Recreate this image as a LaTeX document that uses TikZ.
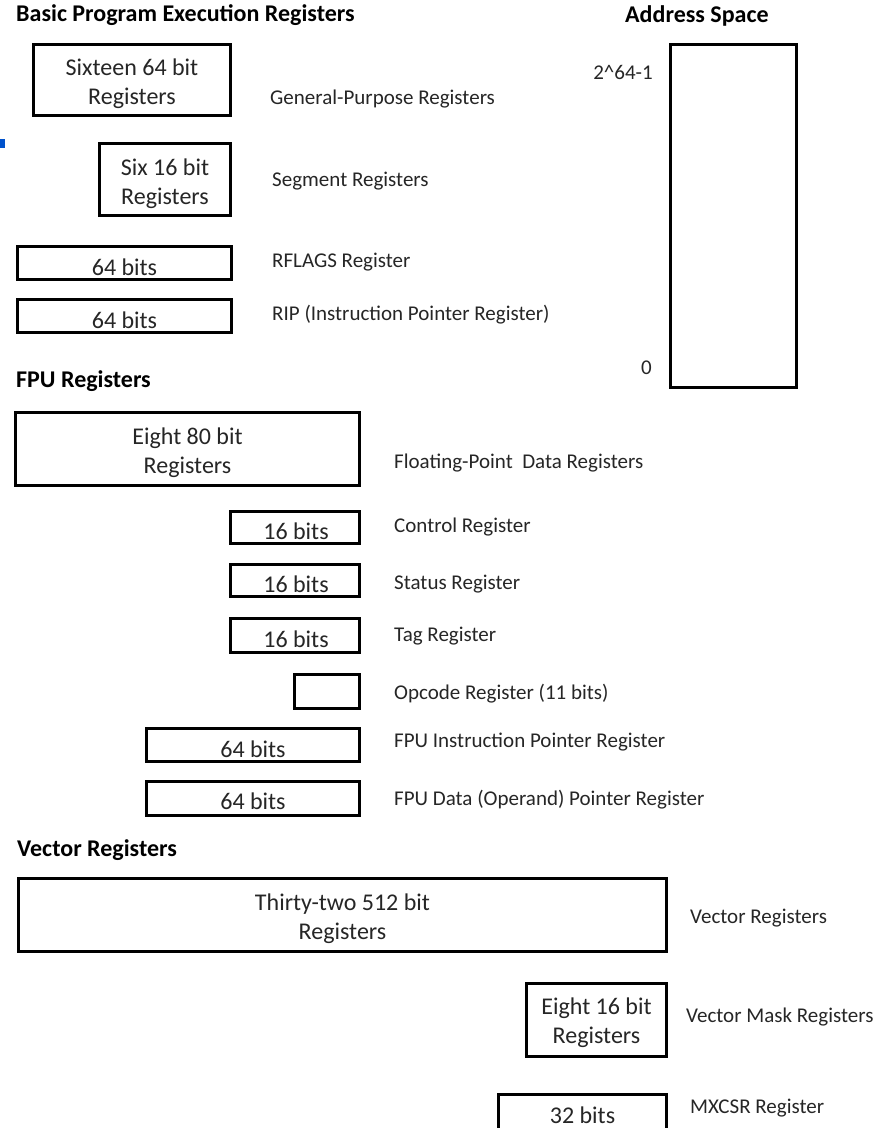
\documentclass[tikz,border=0pt]{standalone}
\usepackage{fontspec}
\setmainfont{Carlito}
\newcommand\lowstrut{\rule{0pt}{25pt}}
\newcommand\midstrut{\rule{0pt}{21.5pt}}
\begin{document}
\begin{tikzpicture}[x=1pt,y=-1pt,
  reg/.style={draw=black, line width=2.7pt, rectangle, inner sep=0pt, align=center,
    font=\fontsize{24}{29}\selectfont, text=black!85},
  lbl/.style={anchor=west, inner sep=0pt, font=\fontsize{21}{24}\selectfont, text=black!85},
  num/.style={anchor=east, inner sep=0pt, font=\fontsize{21}{24}\selectfont, text=black!85},
  head/.style={anchor=west, inner sep=0pt, font=\fontsize{24}{28}\selectfont\bfseries, text=black}]
\clip (0,0) rectangle (887,1128);
\useasboundingbox (0,0) rectangle (887,1128);
\fill[white] (0,0) rectangle (887,1128);
\fill[blue!60!cyan!80!black] (0,139) rectangle (5,148);

% headings
\node[head] (hbasic) at (16,15) {Basic Program Execution Registers};
\node[head] (haddr) at (625,16) {Address Space};
\node[head] (hfpu) at (16,381) {FPU Registers};
\node[head] (hvec) at (17,850) {Vector Registers};

% basic registers
\node[reg, minimum width=197.5, minimum height=71.5] (gpr) at (132,80) {\lowstrut Sixteen 64 bit\\Registers};
\node[reg, minimum width=131.5, minimum height=72.5] (seg) at (165,179.5) {\lowstrut Six 16 bit\\Registers};
\node[reg, minimum width=214.5, minimum height=33.5] (rflags) at (124.5,263) {\lowstrut 64 bits};
\node[reg, minimum width=214.5, minimum height=33.5] (rip) at (124.5,316) {\lowstrut 64 bits};
\node[lbl] (lgpr) at (270,99) {General-Purpose Registers};
\node[lbl] (lseg) at (272,181) {Segment Registers};
\node[lbl] (lrflags) at (272,262) {RFLAGS Register};
\node[lbl] (lrip) at (272,315) {RIP (Instruction Pointer Register)};

% address space
\node[reg, minimum width=126.5, minimum height=343.5] (addr) at (733.5,216) {};
\node[num] (top) at (653,72) {2\^{}64-1};
\node[num] (bot) at (652,368) {0};

% FPU
\node[reg, minimum width=344.5, minimum height=73.5] (fpr) at (187.5,449) {\lowstrut Eight 80 bit\\Registers};
\node[reg, minimum width=129.5, minimum height=32.5] (ctrl) at (295,527.5) {\lowstrut\hspace*{2pt}16 bits};
\node[reg, minimum width=129.5, minimum height=32.5] (stat) at (295,580.5) {\lowstrut\hspace*{2pt}16 bits};
\node[reg, minimum width=129.5, minimum height=34.5] (tag) at (295,635.5) {\lowstrut\hspace*{2pt}16 bits};
\node[reg, minimum width=65.5, minimum height=34.5] (opc) at (327,691.5) {};
\node[reg, minimum width=213.5, minimum height=33.5] (fip) at (253,745) {\lowstrut 64 bits};
\node[reg, minimum width=213.5, minimum height=34.5] (fdp) at (253,798.5) {\midstrut 64 bits};
\node[lbl] (lfpr) at (394,463) {Floating-Point\ \ Data Registers};
\node[lbl] (lctrl) at (394,527) {Control Register};
\node[lbl] (lstat) at (394,584) {Status Register};
\node[lbl] (ltag) at (394,636) {Tag Register};
\node[lbl] (lopc) at (394,694) {Opcode Register (11 bits)};
\node[lbl] (lfip) at (394,742) {FPU Instruction Pointer Register};
\node[lbl] (lfdp) at (394,800) {FPU Data (Operand) Pointer Register};

% vector
\node[reg, minimum width=648.5, minimum height=73.5] (vec) at (342.5,915) {\lowstrut Thirty-two 512 bit\\Registers};
\node[reg, minimum width=140.5, minimum height=73.5] (mask) at (596.5,1020) {\midstrut Eight 16 bit\\Registers};
\node[reg, minimum width=168.5, minimum height=41.5] (mxcsr) at (582.5,1115) {32 bits};
\node[lbl] (lvec) at (690,918) {Vector Registers};
\node[lbl] (lmask) at (686,1017) {Vector Mask Registers};
\node[lbl] (lmxcsr) at (690,1108) {MXCSR Register};
\end{tikzpicture}
\end{document}
